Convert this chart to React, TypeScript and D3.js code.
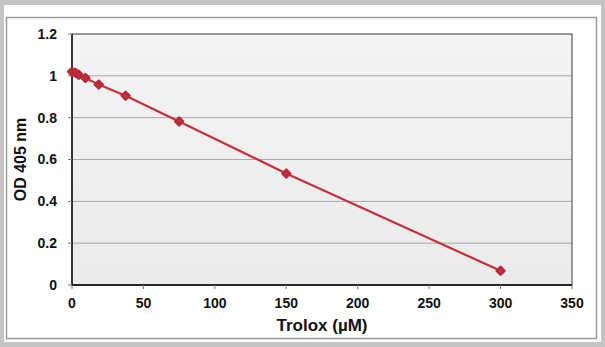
import React from 'react';
import * as d3 from 'd3';

// Trolox standard curve
const troloxConc = [0, 2.34, 4.69, 9.38, 18.75, 37.5, 75, 150, 300];
const odValues = [1.02, 1.015, 1.005, 0.99, 0.958, 0.905, 0.782, 0.533, 0.068];
const xTicks = [0, 50, 100, 150, 200, 250, 300, 350];
const yTicks = [0, 0.2, 0.4, 0.6, 0.8, 1, 1.2];

const W = 605;
const H = 347;
const plot = { left: 72, top: 34, right: 572, bottom: 285 };
const red = '#c62f3b';
const font = '"Liberation Sans", Arial, sans-serif';

export default function App() {
  const x = d3.scaleLinear().domain([0, 350]).range([plot.left, plot.right]);
  const y = d3.scaleLinear().domain([0, 1.2]).range([plot.bottom, plot.top]);

  const pts = troloxConc.map((c, i) => [c, odValues[i]] as [number, number]);
  const line = d3.line<[number, number]>()
    .x(d => x(d[0]))
    .y(d => y(d[1]));

  // square turned 45deg with rounded corners, like the blobby Excel markers
  const marker = d3.symbol().type(d3.symbolSquare).size(30)();

  return (
    <svg width={W} height={H} style={{ position: 'absolute', left: 0, top: 0 }}>
      <defs>
        <linearGradient id="bg" x1="0" y1="0" x2="0" y2="1">
          <stop offset="0" stopColor="#f4f4f4" />
          <stop offset="1" stopColor="#ebebeb" />
        </linearGradient>
      </defs>
      {/* outer frame */}
      <rect x={0} y={0} width={W} height={H} fill="#c4c4c4" />
      <rect x={4} y={5} width={597} height={337} fill="#ffffff" />
      <rect x={6.5} y={17.5} width={590} height={321} fill="none" stroke="#9a9a9a" strokeWidth={1.5} />

      {/* plot area */}
      <rect x={plot.left} y={plot.top} width={plot.right - plot.left} height={plot.bottom - plot.top}
        fill="url(#bg)" />
      {yTicks.filter(t => t > 0 && t < 1.2).map(t => (
        <line key={t} x1={plot.left} x2={plot.right} y1={y(t)} y2={y(t)} stroke="#a8a8a8" strokeWidth={1} />
      ))}
      <rect x={plot.left} y={plot.top} width={plot.right - plot.left} height={plot.bottom - plot.top}
        fill="none" stroke="#3a3a3a" strokeWidth={1} />
      <line x1={plot.left} x2={plot.left} y1={plot.top} y2={plot.bottom} stroke="#000" strokeWidth={1.3} />
      <line x1={plot.left} x2={plot.right} y1={plot.bottom} y2={plot.bottom} stroke="#000" strokeWidth={1.3} />

      {/* y axis ticks & labels */}
      {yTicks.map(t => (
        <g key={t}>
          <line x1={plot.left - 4} x2={plot.left} y1={y(t)} y2={y(t)} stroke="#777" />
          <text x={plot.left - 15} y={y(t)} dy="0.35em" textAnchor="end"
            fontFamily={font} fontWeight="bold" fontSize={14} fill="#111">{t}</text>
        </g>
      ))}
      {/* x axis ticks & labels */}
      {xTicks.map(t => (
        <g key={t}>
          <line x1={x(t)} x2={x(t)} y1={plot.bottom} y2={plot.bottom + 4} stroke="#777" />
          <text x={x(t)} y={plot.bottom + 23} textAnchor="middle"
            fontFamily={font} fontWeight="bold" fontSize={14} fill="#111">{t}</text>
        </g>
      ))}

      <text x={(plot.left + plot.right) / 2} y={331} textAnchor="middle"
        fontFamily={font} fontWeight="bold" fontSize={17} fill="#111">Trolox (µM)</text>
      <text transform={`translate(26, ${(plot.top + plot.bottom) / 2}) rotate(-90)`} textAnchor="middle"
        fontFamily={font} fontWeight="bold" fontSize={16} fill="#111">OD 405 nm</text>

      {/* series */}
      <path d={line(pts) ?? ''} fill="none" stroke={red} strokeWidth={2.2} />
      {pts.map((p, i) => (
        <path key={i} d={marker} transform={`translate(${x(p[0])},${y(p[1])}) rotate(45)`} fill={red}
          stroke="#b82838" strokeWidth={2.5} strokeLinejoin="round" />
      ))}
    </svg>
  );
}
